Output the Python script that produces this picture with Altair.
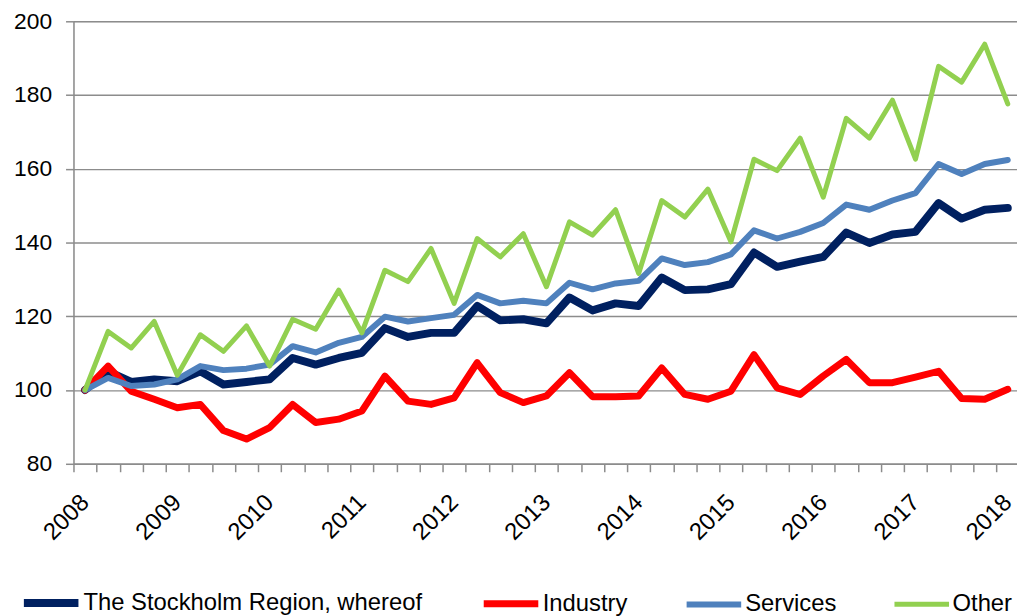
import altair as alt
import pandas as pd

FONT = "Liberation Sans"

quarter_index = list(range(41))
year_labels = [str(y) for y in range(2008, 2019)]
series_names = ["The Stockholm Region, whereof", "Industry", "Services", "Other"]
series_colors = ["#002060", "#FF0000", "#4F81BD", "#92D050"]
series_widths = [8, 5, 5, 5]

stockholm = [100, 105.1, 102.2, 102.9, 102.4, 105.1, 101.5, 102.2, 102.9, 108.7,
             106.9, 108.7, 110.1, 116.8, 114.4, 115.5, 115.5, 122.8, 118.9, 119.2,
             118.1, 125.1, 121.6, 123.5, 122.8, 130.5, 127.1, 127.3, 128.7, 137.3,
             133.4, 134.8, 136.1, 142.7, 139.9, 142.2, 142.9, 150.7, 146.5, 148.9,
             149.4]
industry = [100, 106.5, 99.7, 97.5, 95.2, 96.1, 89.0, 86.7, 89.8, 96.1,
            91.2, 92.1, 94.3, 103.8, 97.0, 96.1, 97.9, 107.4, 99.3, 96.6,
            98.4, 104.7, 98.2, 98.2, 98.4, 106.0, 98.8, 97.5, 99.7, 109.6,
            100.6, 98.8, 103.8, 108.3, 102.0, 102.0, 103.5, 105.1, 97.7, 97.5,
            100.2]
services = [100, 103.3, 101.1, 101.5, 102.9, 106.5, 105.4, 105.8, 106.9, 111.9,
            110.2, 112.8, 114.4, 119.9, 118.6, 119.5, 120.4, 125.8, 123.5, 124.2,
            123.5, 129.1, 127.3, 128.9, 129.6, 135.7, 133.9, 134.7, 136.8, 143.3,
            141.1, 142.9, 145.3, 150.3, 148.9, 151.4, 153.4, 161.3, 158.6, 161.3,
            162.4]
other = [100, 115.9, 111.4, 118.6, 104.0, 115.0, 110.5, 117.4, 106.5, 119.2,
         116.5, 127.1, 115.5, 132.5, 129.4, 138.4, 123.5, 141.1, 136.1, 142.4,
         128.0, 145.6, 142.0, 148.9, 131.6, 151.4, 146.9, 154.5, 140.2, 162.6,
         159.5, 168.3, 152.3, 173.7, 168.3, 178.6, 162.6, 187.8, 183.5, 193.8,
         177.6]
y_ticks = [80, 100, 120, 140, 160, 180, 200]

values_by_series = [stockholm, industry, services, other]
rows = []
for name, vals in zip(series_names, values_by_series):
    for q, v in zip(quarter_index, vals):
        rows.append({"quarter": q, "value": v, "series": name})
df = pd.DataFrame(rows)

PAD_L, PAD_T, PAD_B = 66, 11, 151
PLOT_W = 951
PLOT_H = 446
X_DOMAIN = [-0.5, 40.4]
step = PLOT_W / (X_DOMAIN[1] - X_DOMAIN[0])

tick_vals = [q - 0.5 for q in quarter_index]
years_js = "[" + ",".join("'" + y + "'" for y in year_labels) + "]"
label_expr = ("((datum.value + 0.5) % 4 === 0) ? " + years_js +
              "[(datum.value + 0.5) / 4] : ''")

GRAY = "#8c8c8c"

x_enc = alt.X(
    "quarter:Q",
    scale=alt.Scale(domain=X_DOMAIN, nice=False, zero=False),
    axis=alt.Axis(
        values=tick_vals, labelExpr=label_expr, labelAngle=315,
        labelAlign="right", labelBaseline="middle",
        labelOffset=step / 2, labelOverlap=False, labelFlush=False,
        labelBound=False, labelFontSize=24, labelColor="#000000",
        labelPadding=27, tickColor=GRAY, tickSize=8, tickWidth=1.5,
        domainColor=GRAY, domainWidth=1.5, grid=False, title=None,
    ),
)
y_enc = alt.Y(
    "value:Q",
    scale=alt.Scale(domain=[80, 200], nice=False, zero=False),
    axis=alt.Axis(
        values=y_ticks, grid=True, gridColor=GRAY, gridWidth=1.5,
        tickColor=GRAY, tickSize=8, tickWidth=1.5, domainColor=GRAY,
        domainWidth=1.5, labelFontSize=23, labelColor="#000000",
        labelPadding=14, title=None,
    ),
)

legend_props = dict(
    orient="none", legendX=20 - 8 - PAD_L, legendY=601 - 8 - PAD_T - 27.5,
    direction="horizontal",
    title=None, symbolType="stroke", symbolSize=3025, labelFontSize=24,
    labelFont=FONT, labelColor="#000000", labelOffset=1, columnPadding=47,
    padding=0, labelLimit=600,
)

color_enc = alt.Color(
    "series:N",
    scale=alt.Scale(domain=series_names, range=series_colors),
    legend=alt.Legend(**legend_props),
)
width_enc = alt.StrokeWidth(
    "series:N",
    scale=alt.Scale(domain=series_names, range=series_widths),
    legend=alt.Legend(**legend_props),
)

layers = []
for name in series_names:
    layers.append(
        alt.Chart(df)
        .transform_filter(alt.datum.series == name)
        .mark_line(strokeJoin="round", strokeCap="round")
        .encode(x=x_enc, y=y_enc, color=color_enc, strokeWidth=width_enc)
    )

chart = (
    alt.layer(*layers)
    .properties(
        width=PLOT_W, height=PLOT_H,
        padding={"left": PAD_L, "top": PAD_T, "right": 0, "bottom": PAD_B},
        autosize=alt.AutoSizeParams(type="none"),
    )
    .configure_view(fill="#f2f2f2", stroke=None)
    .configure_axis(labelFont=FONT)
    .configure(background="#ffffff")
)

chart.save("out.html", embed_options={"renderer": "svg", "actions": False})
